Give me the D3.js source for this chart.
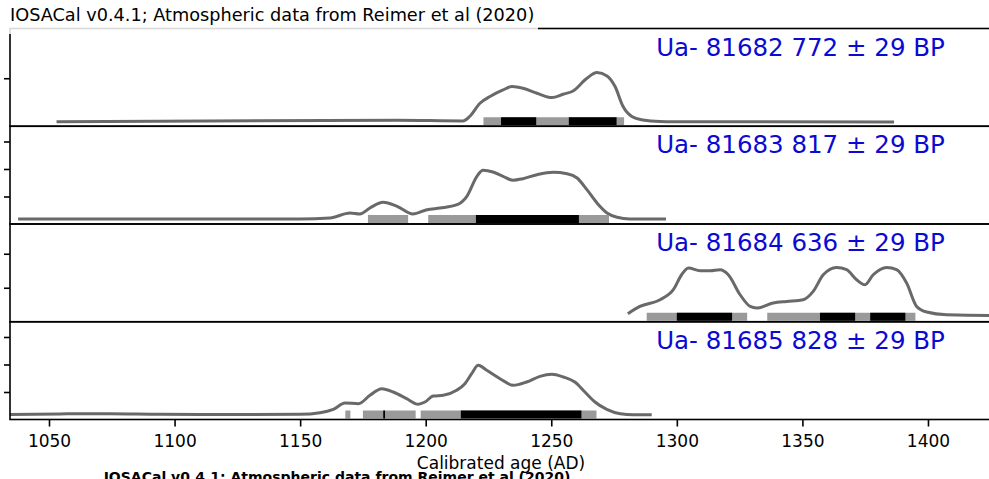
<!DOCTYPE html>
<html>
<head>
  <meta charset="UTF-8">
  <style>
    body { margin: 0; background: #fff; }
    svg { display: block; font-family: "DejaVu Sans", sans-serif; }
  </style>
</head>
<body>
  <svg></svg>
<script src="https://d3js.org/d3.v7.min.js"></script>
<script>
let width = 989,
    height = 479;

// one entry per sample, top to bottom
let labels = ["Ua- 81682 772 ± 29 BP", "Ua- 81683 817 ± 29 BP",
              "Ua- 81684 636 ± 29 BP", "Ua- 81685 828 ± 29 BP"];

// calibrated probability curves (year AD, density)
let years1 = [1053, 1188.6, 1214.8, 1217.6, 1221.6, 1225.6, 1230.8, 1234.4, 1238.7, 1244.3, 1250.3, 1254.7,
              1258.7, 1264.2, 1268.2, 1272.2, 1275.4, 1278.6, 1282.1, 1286.5, 1293.3, 1298.5, 1386.5];
let dens1  = [0.00094, 0.00125, 0.0011, 0.00208, 0.00479, 0.00619, 0.00756, 0.00827, 0.00792, 0.00688, 0.00598, 0.00667,
              0.00735, 0.01, 0.01119, 0.01048, 0.00827, 0.0041, 0.00202, 0.00131, 0.00098, 0.00094, 0.00090];

let years2 = [1037.7, 1149.9, 1161.9, 1169.9, 1173.8, 1177.8, 1183.0, 1188.6, 1194.9, 1200.5, 1205.7, 1212.5, 1216.4,
              1220.4, 1222.8, 1226.8, 1230.8, 1234.8, 1238.7, 1244.3, 1250.7, 1256.3, 1260.3, 1264.2, 1268.2,
              1272.2, 1276.2, 1281.3, 1295.7];
let dens2  = [0.00091, 0.00091, 0.00109, 0.002, 0.00182, 0.00291, 0.00395, 0.00322, 0.00182, 0.0026, 0.00291, 0.00351, 0.00504,
              0.00867, 0.00976, 0.00945, 0.00867, 0.00795, 0.00824, 0.00896, 0.0094, 0.00915, 0.00836, 0.00624, 0.00382,
              0.002, 0.00122, 0.00091, 0.00091];

let years3 = [1280.5, 1285.3, 1293.3, 1298.6, 1301.9, 1304.6, 1309.3, 1313.3, 1317.2, 1320.5, 1325.2, 1329.2, 1331.8,
              1338.4, 1343.7, 1350.3, 1354.3, 1358.3, 1363.6, 1367.6, 1371.6, 1374.9, 1378.2, 1383.6, 1387.5,
              1391.5, 1395.5, 1399.5, 1407.4, 1424.3, 1430];
let dens3  = [0.00118, 0.00225, 0.00324, 0.00471, 0.00691, 0.0079, 0.0075, 0.0075, 0.00765, 0.00691, 0.00397, 0.00225, 0.00201,
              0.00275, 0.00299, 0.00324, 0.00446, 0.00691, 0.00799, 0.00765, 0.00618, 0.00544, 0.00691, 0.00799, 0.00765,
              0.00569, 0.00225, 0.00143, 0.00103, 0.00093, 0.00093];

let years4 = [1034, 1054.4, 1074.3, 1094.2, 1130, 1150, 1157.9, 1163.2, 1167.9, 1173.2, 1177.8, 1182.5, 1187.1, 1192.4,
              1197.0, 1199.7, 1203.0, 1207.0, 1212.3, 1215.6, 1218.3, 1220.9, 1224.3, 1229.6, 1234.9, 1240.2,
              1245.5, 1250.2, 1254.8, 1259.4, 1263.4, 1267.4, 1272.1, 1277.5, 1282.7, 1290.0];
let dens4  = [0.00091, 0.00102, 0.00104, 0.00094, 0.00091, 0.00095, 0.00124, 0.00185, 0.003, 0.00287, 0.0044, 0.0056, 0.005, 0.00378,
              0.00276, 0.00318, 0.00427, 0.0044, 0.00531, 0.00651, 0.00833, 0.00985, 0.00895, 0.00742, 0.00622, 0.00682,
              0.00785, 0.00822, 0.00773, 0.00682, 0.005, 0.00318, 0.00185, 0.00105, 0.00087, 0.00087];

let curveYears = [years1, years2, years3, years4];
let curveDens = [dens1, dens2, dens3, dens4];

// highest posterior density ranges, [from, to] in years AD
let hpd95 = [
  [[1223, 1279]],
  [[1177, 1193], [1201, 1273]],
  [[1288, 1328], [1336, 1395]],
  [[1168, 1170], [1175, 1196], [1198, 1268]]
];
let hpd68 = [
  [[1230, 1244], [1257, 1276]],
  [[1220, 1261]],
  [[1300, 1322], [1357, 1371], [1377, 1391]],
  [[1183.1, 1183.8], [1214, 1262]]
];

// axis limits and ticks
let xDomain = [1034.47, 1425.5];
let xTicks = [1050, 1100, 1150, 1200, 1250, 1300, 1350, 1400];
let yMax = [0.02036, 0.01777, 0.014375, 0.01777];
let yTicks = [[0.01], [0.005, 0.01, 0.015], [0.005, 0.01], [0.005, 0.01, 0.015]];

let titleText = "IOSACal v0.4.1; Atmospheric data from Reimer et al (2020)";

let left = 10, right = 992, top0 = 28.5, panelH = 97.75;

let svg = d3.select("svg")
    .attr("width", width)
    .attr("height", height);

let x = d3.scaleLinear().domain(xDomain).range([left, right]);

let panels = svg.append("g").attr("id", "panels");

labels.forEach((lab, i) => {
  let top = top0 + i * panelH,
      bottom = top + panelH;

  let y = d3.scaleLinear().domain([0, yMax[i]]).range([bottom, top]);

  let g = panels.append("g").attr("class", "panel");

  g.append("clipPath").attr("id", "clip" + i)
    .append("rect")
    .attr("x", left).attr("y", top)
    .attr("width", right - left).attr("height", panelH);

  let pts = curveYears[i].map((yr, k) => [yr, curveDens[i][k]]);

  let line = d3.line()
    .x(d => x(d[0]))
    .y(d => y(d[1]))
    .curve(d3.curveMonotoneX);

  let inner = g.append("g").attr("clip-path", "url(#clip" + i + ")");

  inner.append("path")
    .datum(pts)
    .attr("fill", "none")
    .attr("stroke", "#696969")
    .attr("stroke-width", 3)
    .attr("stroke-linejoin", "round")
    .attr("d", line);

  // interval bars sit just above the bottom spine
  let barTop = y(0) - 9, barH = 8;

  inner.selectAll("rect.h95")
    .data(hpd95[i])
    .enter()
    .append("rect")
    .attr("class", "h95")
    .attr("x", d => x(d[0]))
    .attr("width", d => x(d[1]) - x(d[0]))
    .attr("y", barTop)
    .attr("height", barH)
    .attr("fill", "#9a9a9a");

  inner.selectAll("rect.h68")
    .data(hpd68[i])
    .enter()
    .append("rect")
    .attr("class", "h68")
    .attr("x", d => x(d[0]))
    .attr("width", d => x(d[1]) - x(d[0]))
    .attr("y", barTop)
    .attr("height", barH)
    .attr("fill", "#000");

  // y axis: ticks only, labels fall outside the picture
  g.append("g")
    .attr("transform", "translate(" + left + ",0)")
    .call(d3.axisLeft(y).tickValues(yTicks[i]).tickSize(6).tickFormat(""))
    .call(a => a.select(".domain").remove())
    .selectAll("line").attr("stroke", "#000").attr("stroke-width", 1.6);

  // frame of the panel
  g.append("rect")
    .attr("x", left).attr("y", top)
    .attr("width", right - left).attr("height", panelH)
    .attr("fill", "none")
    .attr("stroke", "#000")
    .attr("stroke-width", 1.6);

  g.append("text")
    .attr("x", left + 0.952 * (right - left))
    .attr("y", top + 27)
    .attr("text-anchor", "end")
    .attr("fill", "#0a0ad2")
    .style("font-size", "24.5px")
    .text(lab);
});

let bottomY = top0 + 4 * panelH;

let xAxis = svg.append("g")
  .attr("transform", "translate(0," + bottomY + ")")
  .call(d3.axisBottom(x).tickValues(xTicks).tickSize(7).tickPadding(8).tickFormat(d3.format("d")));

xAxis.select(".domain").remove();
xAxis.selectAll("line").attr("stroke", "#000").attr("stroke-width", 1.6);
xAxis.selectAll("text")
  .attr("fill", "#000")
  .style("font-size", "17px")
  .style("font-family", "DejaVu Sans");

svg.append("text")
  .attr("x", (left + right) / 2)
  .attr("y", 469)
  .attr("text-anchor", "middle")
  .style("font-size", "17px")
  .text("Calibrated age (AD)");

// title box over the top spine
svg.append("rect")
  .attr("x", 0).attr("y", 0)
  .attr("width", 538).attr("height", 34)
  .attr("fill", "#fff")
  .attr("opacity", 0.85);

svg.append("text")
  .attr("x", 10)
  .attr("y", 21)
  .style("font-size", "17.7px")
  .text(titleText);

// second copy of the title, cut by the bottom of the picture
svg.append("text")
  .attr("x", 337)
  .attr("y", 482)
  .attr("text-anchor", "middle")
  .style("font-size", "14px")
  .style("font-weight", "bold")
  .text(titleText);
</script>
</body>
</html>
